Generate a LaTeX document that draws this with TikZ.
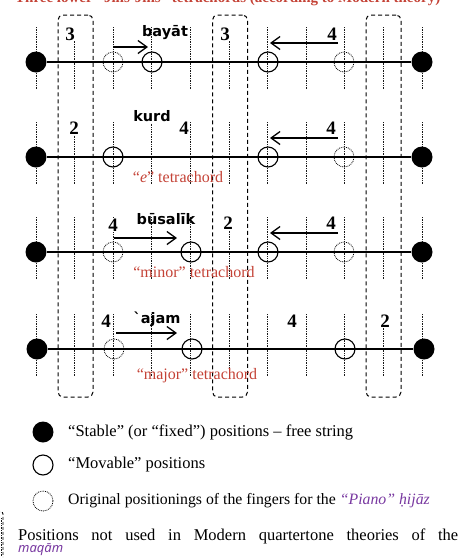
\documentclass[tikz,border=0pt]{standalone}
\usepackage{fontspec}
\setmainfont{Liberation Serif}
\newfontfamily\lblfont{DejaVu Sans}
\newfontfamily\itsans{Noto Sans}
\usetikzlibrary{arrows.meta}
\definecolor{tred}{RGB}{196,66,54}
\definecolor{tpurple}{RGB}{120,56,160}
\begin{document}
\begin{tikzpicture}[x=1pt,y=-1pt,
 tick/.style={line width=0.7pt, dash pattern=on 0.9pt off 0.8pt, black!90},
 stringline/.style={line width=2.8pt},
 fixedpos/.style={circle, fill=black, minimum size=21pt, inner sep=0pt},
 movpos/.style={circle, draw, line width=1.1pt, minimum size=20pt, inner sep=0pt},
 origpos/.style={circle, draw, line width=0.8pt, dash pattern=on 0.8pt off 1pt, minimum size=20pt, inner sep=0pt},
 unused/.style={draw, line width=1pt, dash pattern=on 4pt off 3pt, rounded corners=5pt, minimum width=35pt, minimum height=382pt, inner sep=0pt},
 num/.style={font=\bfseries\fontsize{19}{19}\selectfont, fill=white, inner sep=0.4pt},
 jins/.style={font=\lblfont\bfseries\fontsize{14.5}{14.5}\selectfont, inner sep=1pt},
 tetra/.style={font=\fontsize{16}{16}\selectfont, text=tred, inner sep=0pt},
 move/.style={-{Straight Barb[length=9pt,width=13pt]}, line width=1.3pt},
 legend/.style={font=\fontsize{16.5}{18}\selectfont, anchor=west, inner sep=0pt},
]
\useasboundingbox (0,0) rectangle (458,558);

% title (cut off at top, as in the source)
\node[anchor=base west, inner sep=0pt, text=tred, font=\bfseries\fontsize{15}{15}\selectfont] (title) at (15,2.5) {Three lower “Jins-Jins” tetrachords (according to Modern theory)};

% unused-position boxes
\node[unused] (box1) at (75.5,206) {};
\node[unused] (box2) at (230,206) {};
\node[unused] (box3) at (383.5,206) {};

% ticks
\foreach \r in {62,157,252,349}{
  \foreach \i in {0,...,10}{
    \pgfmathsetmacro{\xx}{36+38.6*\i}
    \draw[tick] (\xx,\r-35) -- (\xx,\r+27);
  }
}

% ---------- row 1: bayat ----------
\node[fixedpos] (f1L) at (36,62) {};
\node[fixedpos] (f1R) at (422,62) {};
\draw[stringline] (f1L) -- (f1R);
\node[origpos] (o1a) at (113,62) {};
\node[movpos]  (m1a) at (152,62) {};
\node[movpos]  (m1b) at (268,62) {};
\node[origpos] (o1b) at (344,62) {};
\coordinate (a1s) at (113,47); \coordinate (a1e) at (148,47);
\draw[move] (a1s) -- (a1e);
\coordinate (b1s) at (338,43); \coordinate (b1e) at (270,43);
\draw[move] (b1s) -- (b1e);
\node[num] (n1a) at (70,34) {3};
\node[num] (n1b) at (225,34) {3};
\node[num] (n1c) at (332,34) {4};
\node[jins] (j1) at (165,33) {bayāt};

% ---------- row 2: kurd ----------
\node[fixedpos] (f2L) at (36,157) {};
\node[fixedpos] (f2R) at (422,157) {};
\draw[stringline] (f2L) -- (f2R);
\node[movpos]  (m2a) at (113,157) {};
\node[movpos]  (m2b) at (268,157) {};
\node[origpos] (o2b) at (344,157) {};
\coordinate (b2s) at (338,138); \coordinate (b2e) at (270,138);
\draw[move] (b2s) -- (b2e);
\node[num] (n2a) at (74,128) {2};
\node[num] (n2b) at (184,128) {4};
\node[num] (n2c) at (331,128) {4};
\node[jins, fill=white] (j2) at (152,116) {kurd};
\node[tetra] (t2) at (178,177) {“\textit{e}” tetrachord};

% ---------- row 3: busalik ----------
\node[fixedpos] (f3L) at (36,252) {};
\node[fixedpos] (f3R) at (422,252) {};
\draw[stringline] (f3L) -- (f3R);
\node[origpos] (o3a) at (113,252) {};
\node[movpos]  (m3a) at (191,252) {};
\node[movpos]  (m3b) at (268,252) {};
\node[origpos] (o3b) at (344,252) {};
\coordinate (a3s) at (114,238); \coordinate (a3e) at (177,238);
\draw[move] (a3s) -- (a3e);
\coordinate (b3s) at (338,233); \coordinate (b3e) at (270,233);
\draw[move] (b3s) -- (b3e);
\node[num] (n3a) at (113,225) {4};
\node[num] (n3b) at (228,223) {2};
\node[num] (n3c) at (331,223) {4};
\node[jins] (j3) at (166,219) {būsalīk};
\node[tetra] (t3) at (194,272) {“minor” tetrachord};

% ---------- row 4: ajam ----------
\node[fixedpos] (f4L) at (37,349) {};
\node[fixedpos] (f4R) at (424,349) {};
\draw[stringline] (f4L) -- (f4R);
\node[origpos] (o4a) at (114,349) {};
\node[movpos]  (m4a) at (192,349) {};
\node[movpos]  (m4b) at (345,349) {};
\coordinate (a4s) at (116,333); \coordinate (a4e) at (177,333);
\draw[move] (a4s) -- (a4e);
\node[num] (n4a) at (106,321) {4};
\node[num] (n4b) at (292,321) {4};
\node[num] (n4c) at (385,321) {2};
\node[jins] (j4) at (157,319) {`ajam};
\node[tetra] (t4) at (197,376) {“major” tetrachord};

% ---------- legend ----------
\node[fixedpos] (lg1) at (43,432) {};
\node[legend] (lt1) at (68,432) {“Stable” (or “fixed”) positions – free string};
\node[movpos] (lg2) at (43,465) {};
\node[legend] (lt2) at (68,465) {“Movable” positions};
\node[origpos] (lg3) at (43,501) {};
\node[legend, font=\fontsize{15.8}{17}\selectfont] (lt3) at (68,501) {Original positionings of the fingers for the \textcolor{tpurple}{\textit{“Piano” ḥijāz}}};
\draw[line width=0.9pt, dash pattern=on 3pt off 2pt, rounded corners=2pt] (-3,512) -- (3,512) -- (3,557);
\draw[tick] (1,518) -- (1,556);
\node[legend] (lt4) at (18,536) {\makebox[440pt][s]{Positions not used in Modern quartertone theories of the}};
\node[legend, font=\itsans\itshape\fontsize{13}{14}\selectfont, text=tpurple] (lt5) at (18,549.5) {maqām};
\end{tikzpicture}
\end{document}
